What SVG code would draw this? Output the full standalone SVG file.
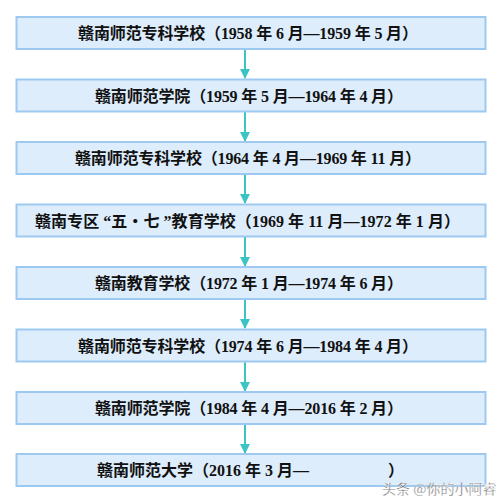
<svg xmlns="http://www.w3.org/2000/svg" width="501" height="504" viewBox="0 0 501 504">
<style>
.box{fill:#DDEDFC;stroke:#9DC9F0;stroke-width:2}
.t{font-family:"Liberation Serif","Noto Sans CJK SC",serif;font-weight:bold;font-size:16px;fill:#111;white-space:pre}
.c{stroke:#3CC4C4;stroke-width:2;fill:none}
.wm{font-family:"Noto Sans CJK SC",sans-serif;font-size:14px;fill:#555;stroke:#fff;stroke-width:0.4}
</style>
<defs>
<marker id="ah" markerWidth="10" markerHeight="10" refX="9" refY="5" orient="auto" markerUnits="userSpaceOnUse">
<path d="M0,0 L10,5 L0,10 Z" fill="#3CC4C4"/>
</marker>
</defs>
<rect width="501" height="504" fill="#fff"/>
<g id="connectors">
<line class="c" x1="245" y1="50" x2="245" y2="78" marker-end="url(#ah)"/>
<line class="c" x1="245" y1="112" x2="245" y2="141" marker-end="url(#ah)"/>
<line class="c" x1="245" y1="175" x2="245" y2="203" marker-end="url(#ah)"/>
<line class="c" x1="245" y1="237" x2="245" y2="266" marker-end="url(#ah)"/>
<line class="c" x1="245" y1="300" x2="245" y2="328" marker-end="url(#ah)"/>
<line class="c" x1="245" y1="362" x2="245" y2="391" marker-end="url(#ah)"/>
<line class="c" x1="245" y1="425" x2="245" y2="453" marker-end="url(#ah)"/>
</g>
<g id="n1"><rect class="box" x="16.5" y="17" width="469" height="32"/><text class="t" x="78" y="39" textLength="340" lengthAdjust="spacing">赣南师范专科学校（1958 年 6 月—1959 年 5 月）</text></g>
<g id="n2"><rect class="box" x="16.5" y="79.5" width="469" height="32"/><text class="t" x="95" y="101.5" textLength="308" lengthAdjust="spacing">赣南师范学院（1959 年 5 月—1964 年 4 月）</text></g>
<g id="n3"><rect class="box" x="16.5" y="142" width="469" height="32"/><text class="t" x="75" y="164" textLength="346" lengthAdjust="spacing">赣南师范专科学校（1964 年 4 月—1969 年 11 月）</text></g>
<g id="n4"><rect class="box" x="16.5" y="204.5" width="469" height="32"/><text class="t" x="35" y="226.5" textLength="425" lengthAdjust="spacing">赣南专区 “五・七 ”教育学校（1969 年 11 月—1972 年 1 月）</text></g>
<g id="n5"><rect class="box" x="16.5" y="267" width="469" height="32"/><text class="t" x="95" y="289" textLength="308" lengthAdjust="spacing">赣南教育学校（1972 年 1 月—1974 年 6 月）</text></g>
<g id="n6"><rect class="box" x="16.5" y="329.5" width="469" height="32"/><text class="t" x="78" y="351.5" textLength="340" lengthAdjust="spacing">赣南师范专科学校（1974 年 6 月—1984 年 4 月）</text></g>
<g id="n7"><rect class="box" x="16.5" y="392" width="469" height="32"/><text class="t" x="95" y="414" textLength="308" lengthAdjust="spacing">赣南师范学院（1984 年 4 月—2016 年 2 月）</text></g>
<g id="n8"><rect class="box" x="16.5" y="454" width="469" height="32"/><text class="t" x="97" y="476" textLength="212" lengthAdjust="spacing">赣南师范大学（2016 年 3 月—</text><text class="t" x="388" y="476">）</text></g>
<text class="wm" x="382" y="494">头条 @你的小阿睿</text>
</svg>
